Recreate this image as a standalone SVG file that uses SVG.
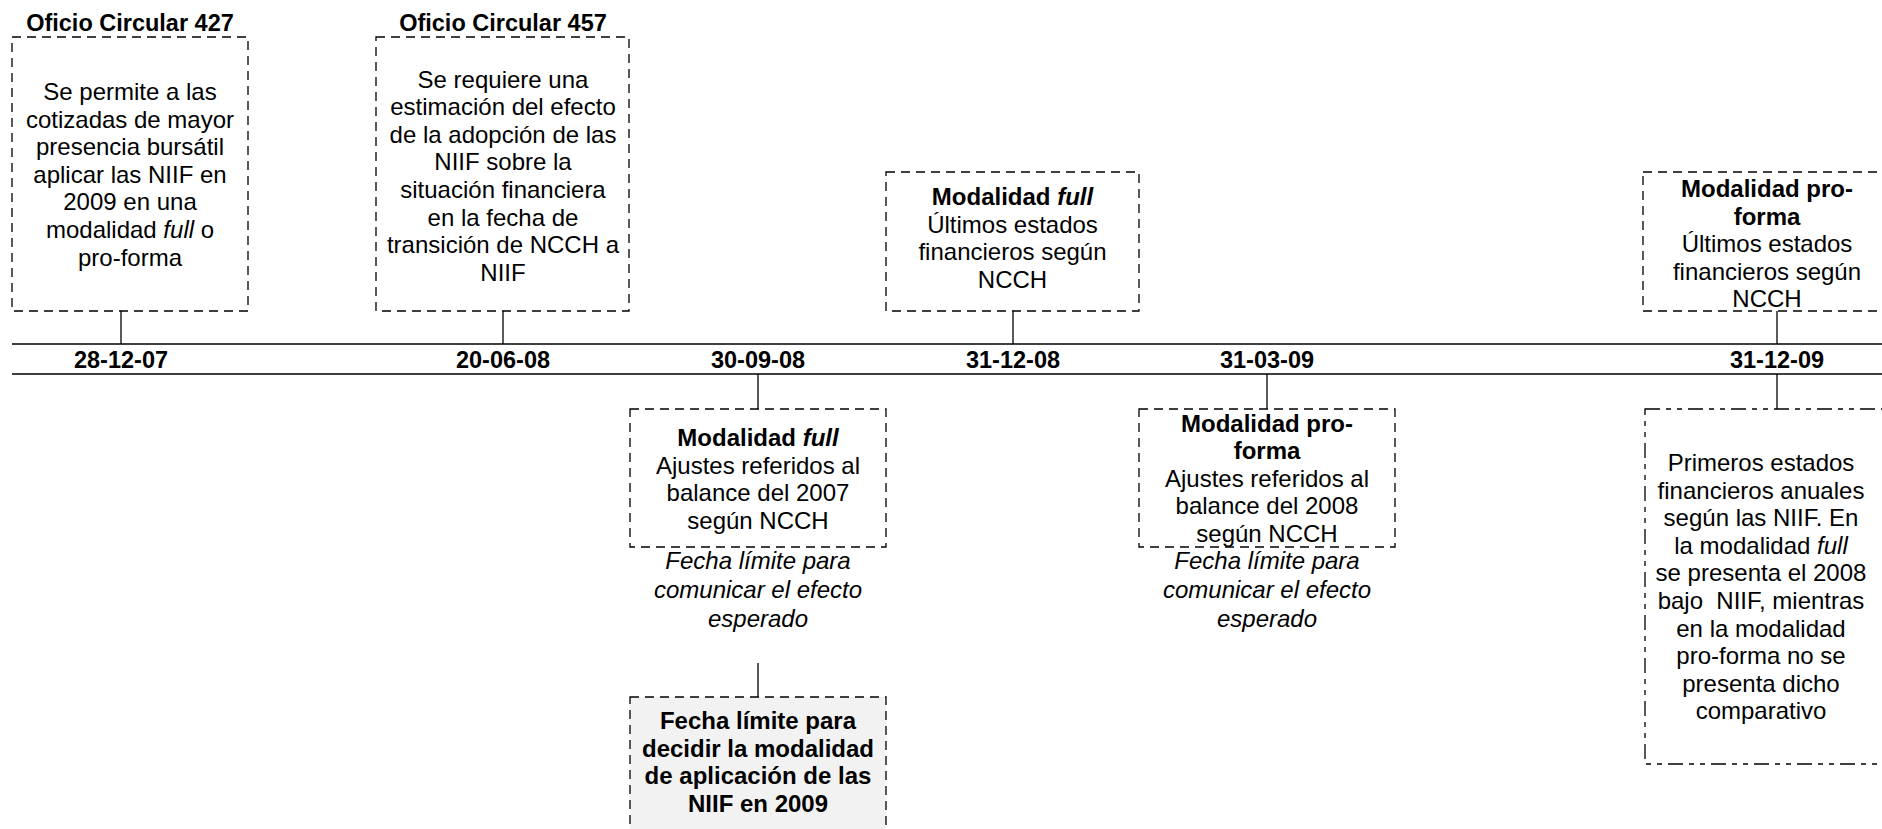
<svg xmlns="http://www.w3.org/2000/svg" width="1882" height="829" viewBox="0 0 1882 829">
<style>
  text { font-family: "Liberation Sans", Arial, sans-serif; font-size: 24px; fill: #000; text-anchor: middle; }
  .b { font-weight: bold; }
  .i { font-style: italic; }
  .title { font-weight: bold; font-size: 23.5px; }
  .date { font-weight: bold; font-size: 23.5px; }
  .box { fill: #fff; stroke: #000; stroke-width: 1.3; stroke-dasharray: 9 6; }
  .gray { fill: #f2f2f2; }
  .dd { stroke-dasharray: 15 6 5 6 5 6; }
  .ln { stroke: #000; stroke-width: 1.3; fill: none; }
</style>
<rect width="1882" height="829" fill="#fff"/>

<g id="timeline">
  <line class="ln" x1="12" y1="344" x2="1882" y2="344"/>
  <line class="ln" x1="12" y1="374" x2="1882" y2="374"/>
  <text class="date" x="121" y="368">28-12-07</text>
  <text class="date" x="503" y="368">20-06-08</text>
  <text class="date" x="758" y="368">30-09-08</text>
  <text class="date" x="1013" y="368">31-12-08</text>
  <text class="date" x="1267" y="368">31-03-09</text>
  <text class="date" x="1777" y="368">31-12-09</text>
</g>

<g id="connectors">
  <line class="ln" x1="121" y1="311" x2="121" y2="344"/>
  <line class="ln" x1="503" y1="311" x2="503" y2="344"/>
  <line class="ln" x1="1013" y1="311" x2="1013" y2="344"/>
  <line class="ln" x1="1777" y1="311" x2="1777" y2="344"/>
  <line class="ln" x1="758" y1="374" x2="758" y2="409"/>
  <line class="ln" x1="758" y1="663" x2="758" y2="697"/>
  <line class="ln" x1="1267" y1="374" x2="1267" y2="409"/>
  <line class="ln" x1="1777" y1="374" x2="1777" y2="409"/>
</g>

<g id="oficio427">
  <text class="title" x="130" y="31">Oficio Circular 427</text>
  <rect class="box" x="12" y="37" width="236" height="274"/>
  <text x="130" y="100">Se permite a las</text>
  <text x="130" y="127.6">cotizadas de mayor</text>
  <text x="130" y="155.2">presencia bursátil</text>
  <text x="130" y="182.8">aplicar las NIIF en</text>
  <text x="130" y="210.4">2009 en una</text>
  <text x="130" y="238">modalidad <tspan class="i">full</tspan> o</text>
  <text x="130" y="265.6">pro-forma</text>
</g>

<g id="oficio457">
  <text class="title" x="503" y="31">Oficio Circular 457</text>
  <rect class="box" x="376" y="37" width="253" height="274"/>
  <text x="503" y="87.5">Se requiere una</text>
  <text x="503" y="115.1">estimación del efecto</text>
  <text x="503" y="142.7">de la adopción de las</text>
  <text x="503" y="170.3">NIIF sobre la</text>
  <text x="503" y="197.9">situación financiera</text>
  <text x="503" y="225.5">en la fecha de</text>
  <text x="503" y="253.1">transición de NCCH a</text>
  <text x="503" y="280.7">NIIF</text>
</g>

<g id="full-311208">
  <rect class="box" x="886" y="172" width="253" height="139"/>
  <text x="1012.5" y="205"><tspan class="b">Modalidad </tspan><tspan class="b i">full</tspan></text>
  <text x="1012.5" y="232.6">Últimos estados</text>
  <text x="1012.5" y="260.2">financieros según</text>
  <text x="1012.5" y="287.8">NCCH</text>
</g>

<g id="proforma-311209">
  <rect class="box" x="1643" y="172" width="250" height="139"/>
  <text class="b" x="1767" y="197">Modalidad pro-</text>
  <text class="b" x="1767" y="224.6">forma</text>
  <text x="1767" y="252.2">Últimos estados</text>
  <text x="1767" y="279.8">financieros según</text>
  <text x="1767" y="307.4">NCCH</text>
</g>

<g id="full-300908">
  <rect class="box" x="630" y="409" width="256" height="138"/>
  <text x="758" y="446"><tspan class="b">Modalidad </tspan><tspan class="b i">full</tspan></text>
  <text x="758" y="473.6">Ajustes referidos al</text>
  <text x="758" y="501.2">balance del 2007</text>
  <text x="758" y="528.8">según NCCH</text>
  <text class="i" x="758" y="568.5">Fecha límite para</text>
  <text class="i" x="758" y="597.5">comunicar el efecto</text>
  <text class="i" x="758" y="626.5">esperado</text>
</g>

<g id="decidir">
  <rect class="box gray" x="630" y="697" width="256" height="160"/>
  <text class="b" x="758" y="729">Fecha límite para</text>
  <text class="b" x="758" y="756.6">decidir la modalidad</text>
  <text class="b" x="758" y="784.2">de aplicación de las</text>
  <text class="b" x="758" y="811.8">NIIF en 2009</text>
</g>

<g id="proforma-310309">
  <rect class="box" x="1139" y="409" width="256" height="138"/>
  <text class="b" x="1267" y="431.5">Modalidad pro-</text>
  <text class="b" x="1267" y="459.1">forma</text>
  <text x="1267" y="486.7">Ajustes referidos al</text>
  <text x="1267" y="514.3">balance del 2008</text>
  <text x="1267" y="541.9">según NCCH</text>
  <text class="i" x="1267" y="568.5">Fecha límite para</text>
  <text class="i" x="1267" y="597.5">comunicar el efecto</text>
  <text class="i" x="1267" y="626.5">esperado</text>
</g>

<g id="primeros-311209">
  <rect class="box dd" x="1645" y="409" width="250" height="355"/>
  <text x="1761" y="471">Primeros estados</text>
  <text x="1761" y="498.6">financieros anuales</text>
  <text x="1761" y="526.2">según las NIIF. En</text>
  <text x="1761" y="553.8">la modalidad <tspan class="i">full</tspan></text>
  <text x="1761" y="581.4">se presenta el 2008</text>
  <text x="1761" y="609" xml:space="preserve">bajo  NIIF, mientras</text>
  <text x="1761" y="636.6">en la modalidad</text>
  <text x="1761" y="664.2">pro-forma no se</text>
  <text x="1761" y="691.8">presenta dicho</text>
  <text x="1761" y="719.4">comparativo</text>
</g>
</svg>
